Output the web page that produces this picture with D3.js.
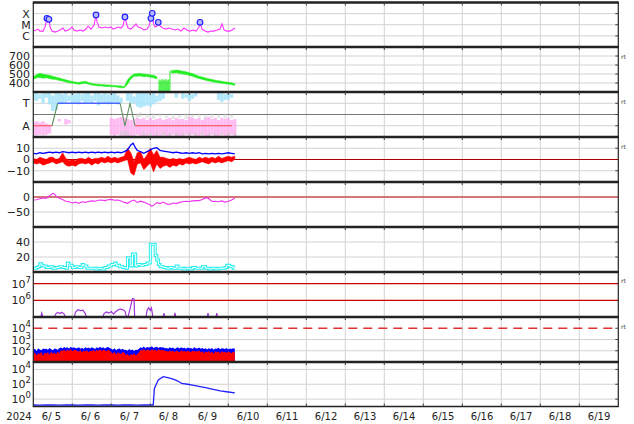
<!DOCTYPE html>
<html><head><meta charset="utf-8">
<script src="https://cdn.jsdelivr.net/npm/d3@7"></script>
<style>body{margin:0;background:#fff}svg{display:block}text{font-family:"DejaVu Sans",sans-serif;fill:#222}</style>
</head><body><svg id="c" width="634" height="424"></svg>
<script>
// ---------------- DATA (hours since 2024-06-05 00:00 UT) ----------------
const dayLabels = ["6/ 5","6/ 6","6/ 7","6/ 8","6/ 9","6/10","6/11","6/12","6/13","6/14","6/15","6/16","6/17","6/18","6/19"];
const yearLabel = "2024";

// X-ray flux (W/m2)
const xrayHours = [0,1.7,2.9,4.1,6,7.2,8.4,9,9.7,10.3,11.5,13.4,15.2,16.4,18.3,19.5,21.4,22.6,23.8,25,26.9,28.7,30.6,32.4,33.7,35.5,37.4,38.6,39.2,40.4,42.3,44.1,46,47.8,49,50.9,52.1,53.9,55.2,56.4,57.4,58.3,60.1,62,63.2,64.4,66.3,68.1,70,71.2,72.4,73.2,74,74.9,76.1,76.9,78,79.8,81.7,83.5,85.4,87.2,89,90.9,92.7,94.6,96.4,98.3,100.1,102,102.6,103.8,105.7,107.5,109.4,111.2,113,114.9,116.1,117.4,119.2,121,122.3,124.1];
const xrayFlux = [2.7e-6,3.4e-6,4.1e-6,2.7e-6,2.7e-6,6.3e-6,3.8e-5,1.8e-5,3.1e-5,6.3e-6,2.7e-6,2.2e-6,2.7e-6,3.4e-6,5.1e-6,2.7e-6,3.4e-6,4.1e-6,6.3e-6,3.4e-6,2.7e-6,3.4e-6,2.7e-6,4.1e-6,7.7e-6,4.1e-6,9.5e-6,7.5e-5,1.8e-5,6.3e-6,5.1e-6,6.3e-6,5.1e-6,6.3e-6,4.1e-6,5.1e-6,6.3e-6,5.1e-6,7.7e-6,5.0e-5,1.2e-5,5.1e-6,4.1e-6,7.7e-6,1.2e-5,6.3e-6,5.1e-6,3.4e-6,4.1e-6,7.7e-6,3.8e-5,1.07e-4,1.2e-5,6.3e-6,7.7e-6,1.66e-5,7.7e-6,5.1e-6,4.1e-6,5.1e-6,4.1e-6,3.4e-6,4.1e-6,2.7e-6,5.1e-6,3.4e-6,2.7e-6,3.4e-6,2.7e-6,6.3e-6,1.66e-5,4.1e-6,2.7e-6,2.2e-6,2.7e-6,2.7e-6,3.4e-6,4.1e-6,1.2e-5,3.4e-6,2.7e-6,2.7e-6,3.4e-6,5.1e-6];
const flareHours = [8.4,9.6,38.6,56.4,72.4,73.2,76.9,102.6];
const flareFlux = [3.8e-5,3.1e-5,7.5e-5,5.0e-5,3.8e-5,1.07e-4,1.66e-5,1.66e-5];
const xrayClasses = ["C","M","X"];
const xrayClassFlux = [1e-6,1e-5,1e-4];

// Solar wind speed (km/s), min/max per 2 h
const windHours = [0,2,4,6,8,10,12,14,16,18,20,22,24,26,28,30,32,34,36,38,40,42,44,46,48,50,52,54,56,58,60,62,64,66,68,70,72,74,76,80,85,86,88,90,92,94,96,98,100,102,104,106,108,110,112,114,116,118,120,122,124];
const windLo = [440,458,462,452,458,448,442,438,428,422,412,402,397,392,387,393,398,387,377,372,367,367,362,362,357,357,352,347,347,385,445,475,474,478,470,472,465,458,445,null,510,510,514,505,500,494,484,474,460,450,440,430,423,414,408,403,398,392,387,382,372];
const windHi = [468,495,508,500,492,485,475,465,455,445,435,425,418,410,405,415,420,405,395,390,385,382,380,378,376,372,370,366,362,435,475,500,505,505,500,496,490,485,470,null,540,540,545,540,530,525,515,505,490,476,466,456,446,440,431,426,420,412,407,402,392];
const windSpikeHours = [77.4,78,78.6,79.2,79.8,80.4,81,81.6,82.2,82.8,83.4,84.1];
const windSpikeTop = [440,420,435,445,425,440,430,445,420,435,440,540];
const windTicks = [400,500,600,700];

// IMF sector: observed angle clouds per 2 h bin (T=+1, A=-1)
const imfBinHours = [0,2,4,6,8,10,12,14,16,18,20,22,24,26,28,30,32,34,36,38,40,42,44,46,48,50,52,54,56,58,60,62,64,66,68,70,72,74,76,78,80,82,84,86,88,90,92,94,96,98,100,102,104,106,108,110,112,114,116,118,120,122,124];
const towardHi = [1.9,1.9,1.8,1.9,1.9,1.9,1.7,1.9,1.9,1.8,1.9,1.7,1.9,1.8,1.9,1.8,1.9,1.9,1.7,1.9,1.9,1.8,1.9,1.8,1.9,1.9,1.7,1.5,null,1.9,1.9,1.6,1.9,1.9,1.9,1.9,1.8,1.9,1.7,1.9,1.9,null,null,null,1.9,null,1.9,1.8,1.9,1.8,1.9,null,null,null,null,null,null,1.9,1.9,1.8,1.9,1.8,null];
const towardLo = [1.3,1.2,1.4,1.0,1.5,0.9,0.3,0.4,0.9,1.0,1.1,1.2,1.0,1.1,0.9,1.2,1.0,1.1,1.0,1.2,0.8,1.1,1.0,0.9,1.0,1.1,0.9,1.0,null,1.2,1.0,1.0,0.7,0.6,0.7,0.8,0.7,0.9,1.1,1.2,1.4,null,null,null,1.5,null,1.4,1.5,1.2,1.4,1.6,null,null,null,null,null,null,1.3,1.1,1.3,1.3,1.5,null];
const awayHi = [-0.7,-0.6,-0.7,-0.6,-0.8,-0.9,null,null,-0.4,null,-0.4,-0.5,null,null,null,null,null,null,null,null,null,null,null,null,-0.3,-0.4,-0.3,-0.2,-0.3,-0.4,-0.5,-0.4,-0.3,-0.4,-0.3,-0.5,-0.3,-0.5,-0.4,-0.3,-0.5,-0.4,-0.3,-0.5,-0.3,-0.4,-0.4,-0.5,-0.2,-0.3,-0.4,-0.3,-0.5,-0.3,-0.2,-0.4,-0.3,-0.5,-0.3,-0.4,-0.3,-0.5,-0.4];
const awayLo = [-1.85,-1.85,-1.8,-1.85,-1.8,-1.7,null,null,-0.6,null,-0.9,-0.8,null,null,null,null,null,null,null,null,null,null,null,null,-1.8,-1.9,-1.8,-1.9,-1.9,-1.9,-1.9,-1.9,-1.8,-1.9,-1.9,-1.9,-1.8,-1.9,-1.9,-1.9,-1.8,-1.9,-1.9,-1.8,-1.9,-1.9,-1.9,-1.8,-1.9,-1.8,-1.9,-1.9,-1.8,-1.9,-1.9,-1.8,-1.9,-1.9,-1.8,-1.9,-1.9,-1.8,-1.9];
const grayHi = [null,null,null,null,null,null,null,null,null,null,null,null,null,null,null,null,null,null,null,null,null,null,null,null,null,null,null,-1.5,-1.4,-1.5,null,null,0.1,0.2,-1.5,0.1,-1.6,0.1,-1.5,0.1,-1.5,0.0,-1.6,0.1,-1.5,0.0,-1.6,0.1,-1.5,0.0,-1.6,0.1,-1.5,0.0,-1.6,0.1,-1.5,0.0,-1.6,0.1,-1.5,0.0,-1.6];
const grayLo = [null,null,null,null,null,null,null,null,null,null,null,null,null,null,null,null,null,null,null,null,null,null,null,null,null,null,null,-1.9,-1.9,-1.9,null,null,-0.3,-0.2,-1.9,-0.3,-1.9,-0.4,-1.9,-0.2,-1.9,-0.3,-1.9,-0.4,-1.9,-0.3,-1.9,-0.4,-1.9,-0.3,-1.9,-0.3,-1.9,-0.4,-1.9,-0.3,-1.9,-0.3,-1.9,-0.4,-1.9,-0.3,-1.9];
const imfHours = [0,11.5,15,53.4,56.4,59.5,62.6,122.3];
const imfSector = [-1,-1,1,1,-1,1,-1,-1];
const imfLabels = ["T","A"];

// IMF Bt (nT) and Bz min/max (nT)
const btHours = [0,2,4,6,8,10,12,14,16,18,20,22,24,26,28,30,32,34,36,38,40,42,44,46,48,50,52,54,56,58,60,61.4,63,64,66,68,70,72,74,76,78,80,82,84,86,88,90,92,94,96,98,100,102,104,106,108,110,112,114,116,118,120,122,124];
const btValues = [5.5,5,6,5.5,6,6.5,6,6.5,6,7,6.5,6,6.5,6,6.5,6,6.5,6,6.5,6,6.5,6,6.5,6,6.5,6,6.5,6,7,8.5,13,14.5,10,8,7,5.5,7,8.5,10,10.5,8,7.5,7,6.5,6,6.5,6,5.5,6,5.5,6,5.5,6,5,5.5,5,5.5,5,5.5,5,5.5,6,5.5,5];
const bzHours = [0,2,4,6,8,10,12,14,16,18,20,22,24,26,28,30,32,34,36,38,40,42,44,46,48,50,52,54,56,58,60,62,64,66,68,70,72,74,76,78,80,82,84,86,88,90,92,94,96,98,100,102,104,106,108,110,112,114,116,118,120,122,124];
const bzLo = [-3,-4,-3,-5,-4,-3,-2,-4,-3,-2,-5,-6,-5,-6,-4,-3,-4,-3,-5,-3,-4,-2,-3,-2,-3,-2,-3,-2,-1,0,-12,-14,-4,-3,-9,-6,-3,-11,-4,-8,-6,-5,-7,-5,-6,-4,-5,-3,-4,-3,-4,-3,-2,-3,-4,-2,-3,-2,-3,-2,-1,-2,0];
const bzHi = [1,0,2,1,0,2,2,0,1,6,1,-1,0,-1,1,1,0,2,0,1,1,2,1,3,1,2,1,2,3,10,6,-2,6,7,0,4,10,4,8,2,2,1,0,1,0,1,0,1,2,1,0,2,1,2,1,2,1,3,1,2,3,2,3];
const bTicks = [10,0,-10];

// Dst (nT)
const dstHours = [0,2,4,6,8,10,12,13,14,16,18,20,22,24,26,28,30,32,34,36,38,40,42,44,46,48,50,52,54,56,58,60,62,64,66,68,70,72,73,74,76,78,80,82,84,86,88,90,92,94,96,98,100,102,104,106,107,108,110,112,114,116,118,120,122,124];
const dstValues = [-10,-9,-6,-3,-5,4,12,10,3,-4,-8,-14,-16,-20,-17,-21,-16,-18,-15,-13,-14,-11,-10,-12,-9,-8,-11,-10,-13,-18,-21,-14,-10,-18,-14,-17,-22,-27,-31,-28,-19,-22,-17,-23,-25,-20,-22,-18,-16,-14,-15,-13,-12,-12,-8,-3,-2,-6,-15,-14,-16,-13,-17,-14,-10,-4];
const dstTicks = [0,-50];

// Geomagnetic activity index
const cyanHours = [0,2,3,4,5,6,8,10,12,14,16,18,20,21,22,24,26,28,30,31,33,36,38,40,42,44,46,48,50,51,53,55,57,58,60,61,63,64,66,68,70,72,75,76,77,78,80,82,84,86,88,89,92,94,96,98,100,104,106,108,110,112,114,116,118,119,121,123,124];
const cyanValues = [5,6,7,11,9,8,6,7,5,6,7,6,5,12,9,6,7,6,10,8,5,5,4,5,4,6,8,10,12,9,7,6,5,19,8,24,8,10,9,10,12,37,22,16,10,7,6,5,6,5,8,5,4,5,4,6,5,7,5,4,5,4,5,5,6,9,7,5,5];
const cyanTicks = [20,40];

// >2 MeV electron flux
const elecHours = [0,4,5.2,6.5,12.5,14,15,16.5,17.5,19,20,25,26,27.5,29,30.5,32,33,42.5,43.5,45,46.5,48,49.5,50.5,52,53.5,55,56.5,57.5,58,59.5,61,62,62.5,69,70,71,72,72.7,74,79.5,80.4,81.2,86.3,87.2,88,106.6,107.5,108.4,112,112.9,113.8,124];
const elecValues = [5e4,6e4,1.7e5,6e4,8e4,1.6e5,1.9e5,1.6e5,1.9e5,1.5e5,8e4,8e4,2e5,2.7e5,2.4e5,2.6e5,1.6e5,8e4,8e4,1.6e5,2e5,1.7e5,2.1e5,1.5e5,2e5,2.6e5,3e5,2.8e5,2.2e5,8e4,8e4,3e5,1.3e6,1.2e6,5e4,6e4,2.5e5,3.6e5,2.5e5,3.5e5,6e4,6e4,1.7e5,6e4,6e4,1.8e5,6e4,6e4,1.7e5,6e4,6e4,1.7e5,6e4,5e4];
const elecExps = [6,7];
const elecAlerts = [1e6,1e7];

// Proton flux, hourly from 00 UT 6/5
const protonRed = [45,70,38,60,52,80,35,66,58,75,42,90,55,68,48,85,60,110,95,130,85,120,100,140,90,115,125,95,80,120,70,105,85,110,75,100,90,125,80,115,100,130,95,120,110,90,125,105,70,55,85,45,75,60,50,80,65,40,55,35,48,42,60,38,50,70,120,105,140,95,130,115,100,135,110,125,90,140,105,120,115,100,95,80,110,85,100,75,105,90,70,115,85,95,80,100,90,75,105,85,95,80,110,75,90,60,85,70,95,65,80,55,90,75,85,60,95,70,80,65,90,75,60,85,70];
const protonBlue = [120,150,95,170,130,110,160,140,150,120,175,135,110,160,145,125,170,190,160,220,175,200,150,230,180,210,165,170,200,150,185,140,210,165,190,155,200,175,145,200,170,230,180,210,160,195,220,175,150,120,170,110,140,160,125,150,115,120,100,140,110,130,95,125,115,150,200,180,240,170,220,190,210,250,180,200,230,175,215,190,205,170,180,150,200,165,190,140,175,200,155,210,170,185,150,195,165,180,145,200,170,160,190,150,180,140,170,130,165,145,175,120,160,150,185,135,170,155,140,175,130,160,145,170,150];
const protonExps = [2,3,4];
const protonAlert = 1e4;

// High-energy proton flux
const hiHours = [0,4,8,12,16,20,24,28,32,36,40,44,48,52,56,60,64,68,72,73.8,74.5,76.9,80,82,84,86,88,90,91.3,95,98,102.6,106,110,115,120,124];
const hiValues = [0.16,0.15,0.17,0.16,0.15,0.16,0.17,0.15,0.16,0.16,0.15,0.17,0.16,0.15,0.16,0.17,0.15,0.16,0.16,0.16,28,370,1050,850,650,480,330,200,135,100,75,49,35,22,13,9,7];
const hiExps = [0,2,4];

// ---------------- DRAWING ----------------
const svg = d3.select("#c");
const B = [2.5,47,92,137,182,227,272,317,362,406.5];
const X0 = 33.3, X1 = 618.3;
const x = d3.scaleLinear().domain([0,360]).range([X0,X1]);
const rng = i => [B[i+1], B[i]];
const yX = d3.scaleLog().domain([1e-7,1e-3]).range(rng(0));
const yV = d3.scaleLinear().domain([300,800]).range(rng(1));
const yS = d3.scaleLinear().domain([-2,2]).range(rng(2));
const yB = d3.scaleLinear().domain([-20,20]).range(rng(3));
const yD = d3.scaleLinear().domain([-100,50]).range(rng(4));
const yC = d3.scaleLinear().domain([0,60]).range(rng(5));
const yE = d3.scaleLog().domain([1e5,5e7]).range(rng(6));
const yP = d3.scaleLog().domain([10,1e5]).range(rng(7));
const yQ = d3.scaleLog().domain([0.1,1e5]).range(rng(8));

const defs = svg.append("defs");
for (let i=0;i<9;i++){
  defs.append("clipPath").attr("id","cp"+i).append("rect")
    .attr("x",X0).attr("y",B[i]).attr("width",X1-X0).attr("height",B[i+1]-B[i]);
}
const grid = svg.append("g");
const gray = "#d2d2d2";
for (let d=1; d<15; d++){
  grid.append("line").attr("x1",x(d*24)).attr("x2",x(d*24)).attr("y1",B[0]).attr("y2",B[9])
    .attr("stroke",gray).attr("stroke-width",1);
}
const hgrid = [];
function hline(y, color, w, dash){
  const l = grid.append("line").attr("x1",X0).attr("x2",X1).attr("y1",y).attr("y2",y)
    .attr("stroke",color).attr("stroke-width",w);
  if (dash) l.attr("stroke-dasharray",dash);
  hgrid.push(y);
}
xrayClassFlux.forEach(v=>hline(yX(v),gray,1));
windTicks.forEach(v=>hline(yV(v),gray,1));
hline(yS(1),gray,1); hline(yS(-1),gray,1); hline(yS(0),"#777",1.2);
hline(yB(10),gray,1); hline(yB(-10),gray,1);
hline(yD(-50),gray,1);
cyanTicks.forEach(v=>hline(yC(v),gray,1));
protonExps.slice(0,2).forEach(e=>hline(yP(Math.pow(10,e)),gray,1));
hiExps.forEach(e=>hline(yQ(Math.pow(10,e)),gray,1));

const data = svg.append("g");
const pg = i => data.append("g").attr("clip-path","url(#cp"+i+")");

// Panel 0: X-ray
{
  const g = pg(0);
  const line = d3.line().x((d,i)=>x(xrayHours[i])).y(d=>yX(d));
  g.append("path").attr("d",line(xrayFlux)).attr("fill","none").attr("stroke","#ff33ff").attr("stroke-width",1.1);
  flareHours.forEach((h,i)=>{
    g.append("circle").attr("cx",x(h)).attr("cy",yX(flareFlux[i])).attr("r",2.8)
      .attr("fill","#b8b8ff").attr("stroke","#2222ff").attr("stroke-width",1.2);
  });
}
// Panel 1: wind
{
  const g = pg(1);
  const area = d3.area().defined((d,i)=>windLo[i]!==null)
    .x((d,i)=>x(windHours[i])).y0((d,i)=>yV(windLo[i])).y1((d,i)=>yV(windHi[i]));
  g.append("path").attr("d",area(windHours)).attr("fill","#22ee22").attr("stroke","#22ee22").attr("stroke-width",0.5);
  windSpikeHours.forEach((h,i)=>{
    g.append("line").attr("x1",x(h)).attr("x2",x(h)).attr("y1",yV(300)).attr("y2",yV(windSpikeTop[i]))
      .attr("stroke","#22ee22").attr("stroke-width",1);
  });
}
// Panel 2: IMF sector
{
  const g = pg(2);
  function clouds(hi, lo, color, op){
    imfBinHours.forEach((h,i)=>{
      if (hi[i]===null) return;
      g.append("rect").attr("x",x(h-1)).attr("width",x(h+1)-x(h-1))
        .attr("y",yS(hi[i])).attr("height",yS(lo[i])-yS(hi[i]))
        .attr("fill",color).attr("opacity",op);
    });
  }
  clouds(towardHi,towardLo,"#a8e4fb",0.9);
  clouds(awayHi,awayLo,"#ffb0f0",0.85);
  clouds(grayHi,grayLo,"#cccccc",0.45);
  for (let i=0;i<imfHours.length-1;i++){
    const a=imfSector[i], b=imfSector[i+1];
    const col = (a===b) ? (a>0 ? "#4a66ff" : "#ff4a4a") : "#5f8f5f";
    g.append("line").attr("x1",x(imfHours[i])).attr("x2",x(imfHours[i+1]))
      .attr("y1",yS(a)).attr("y2",yS(b)).attr("stroke",col).attr("stroke-width",a===b&&a>0?1.6:1.1);
  }
}
// Panel 3: Bt / Bz
{
  const g = pg(3);
  g.append("line").attr("x1",X0).attr("x2",X1).attr("y1",yB(0)).attr("y2",yB(0)).attr("stroke","#aa0000").attr("stroke-width",1.2);
  const area = d3.area().x((d,i)=>x(bzHours[i])).y0((d,i)=>yB(bzLo[i])).y1((d,i)=>yB(bzHi[i]));
  g.append("path").attr("d",area(bzHours)).attr("fill","#ff0000").attr("stroke","#ff0000").attr("stroke-width",0.6);
  const line = d3.line().x((d,i)=>x(btHours[i])).y(d=>yB(d));
  g.append("path").attr("d",line(btValues)).attr("fill","none").attr("stroke","#0000ff").attr("stroke-width",1.3);
}
// Panel 4: Dst
{
  const g = pg(4);
  g.append("line").attr("x1",X0).attr("x2",X1).attr("y1",yD(0)).attr("y2",yD(0)).attr("stroke","#d06868").attr("stroke-width",2.2).attr("opacity",0.9);
  const line = d3.line().x((d,i)=>x(dstHours[i])).y(d=>yD(d));
  g.append("path").attr("d",line(dstValues)).attr("fill","none").attr("stroke","#ee33ee").attr("stroke-width",1.1);
}
// Panel 5: activity index
{
  const g = pg(5);
  const line = d3.line().curve(d3.curveStepAfter).x((d,i)=>x(cyanHours[i])).y(d=>yC(d));
  g.append("path").attr("d",line(cyanValues)).attr("fill","none").attr("stroke","#22eeee").attr("stroke-width",3);
  g.append("path").attr("d",line(cyanValues)).attr("fill","none").attr("stroke","#ffffff").attr("stroke-width",1);
}
// Panel 6: electrons
{
  const g = pg(6);
  elecAlerts.forEach(v=>{
    g.append("line").attr("x1",X0).attr("x2",X1).attr("y1",yE(v)).attr("y2",yE(v)).attr("stroke","#cc0000").attr("stroke-width",1.2);
  });
  const line = d3.line().x((d,i)=>x(elecHours[i])).y(d=>yE(d));
  g.append("path").attr("d",line(elecValues)).attr("fill","none").attr("stroke","#a035d8").attr("stroke-width",1.2);
}
// Panel 7: protons
{
  const g = pg(7);
  const areaB = d3.area().x((d,i)=>x(i)).y0(B[8]).y1(d=>yP(d));
  g.append("path").attr("d",areaB(protonBlue)).attr("fill","#0000ff");
  g.append("path").attr("d",areaB(protonRed)).attr("fill","#ff0000");
  g.append("line").attr("x1",X0).attr("x2",X1).attr("y1",yP(protonAlert)).attr("y2",yP(protonAlert))
    .attr("stroke","#e03030").attr("stroke-width",1.3).attr("stroke-dasharray","9,6");
  hgrid.push(yP(protonAlert));
}
// Panel 8: high-energy protons
{
  const g = pg(8);
  const line = d3.line().x((d,i)=>x(hiHours[i])).y(d=>yQ(d));
  g.append("path").attr("d",line(hiValues)).attr("fill","none").attr("stroke","#2222ff").attr("stroke-width",1.3);
}

// Frames
const fr = svg.append("g");
for (let i=0;i<9;i++){
  fr.append("line").attr("x1",X0-0.5).attr("x2",X1+0.5).attr("y1",B[i]).attr("y2",B[i]).attr("stroke","#222").attr("stroke-width",2.6);
}
fr.append("line").attr("x1",X0-0.5).attr("x2",X1+0.5).attr("y1",B[9]).attr("y2",B[9]).attr("stroke","#222").attr("stroke-width",1.5);
fr.append("line").attr("x1",X0).attr("x2",X0).attr("y1",B[0]).attr("y2",B[9]).attr("stroke","#222").attr("stroke-width",1.2);
fr.append("line").attr("x1",X1).attr("x2",X1).attr("y1",B[0]).attr("y2",B[9]).attr("stroke","#222").attr("stroke-width",1.2);
hgrid.forEach(y=>fr.append("line").attr("x1",X1-3).attr("x2",X1).attr("y1",y).attr("y2",y).attr("stroke","#444").attr("stroke-width",1));
for (let d=1; d<15; d++){
  for (let i=0;i<10;i++){
    fr.append("line").attr("x1",x(d*24)).attr("x2",x(d*24)).attr("y1",B[i]).attr("y2",B[i]+ (i===9?-3:3)).attr("stroke","#444").attr("stroke-width",1);
  }
}

// Labels
const lab = svg.append("g");
const FS = 11;
function tl(y, t){ lab.append("text").attr("x",30).attr("y",y).attr("dy","0.36em").attr("text-anchor","end").attr("font-size",FS).text(t); }
function sup(y, base, e){
  const t = lab.append("text").attr("x",31).attr("y",y+4).attr("text-anchor","end").attr("font-size",FS);
  t.append("tspan").text(base);
  t.append("tspan").attr("dy",-5).attr("font-size",8.5).text(e);
}
xrayClasses.forEach((c,i)=>lab.append("text").attr("x",26).attr("y",yX(xrayClassFlux[i])).attr("dy","0.36em").attr("text-anchor","middle").attr("font-size",FS).text(c));
windTicks.forEach(v=>tl(yV(v), String(v)));
lab.append("text").attr("x",26).attr("y",yS(1)).attr("dy","0.36em").attr("text-anchor","middle").attr("font-size",FS).text(imfLabels[0]);
lab.append("text").attr("x",26).attr("y",yS(-1)).attr("dy","0.36em").attr("text-anchor","middle").attr("font-size",FS).text(imfLabels[1]);
bTicks.forEach(v=>tl(yB(v), v<0 ? "\u2212"+Math.abs(v) : String(v)));
dstTicks.forEach(v=>tl(yD(v), v<0 ? "\u2212"+Math.abs(v) : String(v)));
cyanTicks.forEach(v=>tl(yC(v), String(v)));
elecExps.forEach(e=>sup(yE(Math.pow(10,e)),"10",String(e)));
protonExps.forEach(e=>sup(yP(Math.pow(10,e)),"10",String(e)));
hiExps.forEach(e=>sup(yQ(Math.pow(10,e)),"10",String(e)));

lab.append("text").attr("x",19).attr("y",420).attr("text-anchor","middle").attr("font-size",10).text(yearLabel);
dayLabels.forEach((t,i)=>lab.append("text").attr("x",x(i*24+12)-11).attr("y",420).attr("font-size",10).text(t));

[yV(800)+10, yS(2)+10, yB(20)+10, yE(5e7)+9, yP(1e5)+10].forEach(y=>{
  lab.append("text").attr("x",621).attr("y",y+2).attr("font-size",6).style("fill","#444").text("rt");
});
</script></body></html>
